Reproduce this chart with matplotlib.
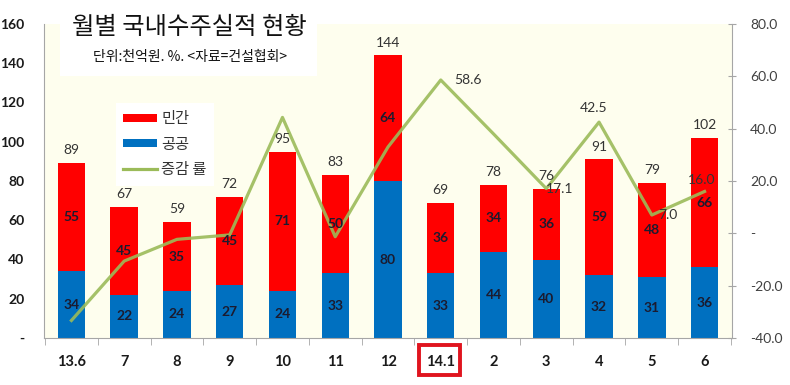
import matplotlib
matplotlib.use("Agg")
import matplotlib.pyplot as plt
from matplotlib.patches import Rectangle, Patch
from matplotlib.lines import Line2D
import numpy as np

plt.rcParams['font.family'] = ['Lato', 'Noto Sans CJK KR', 'DejaVu Sans']

categories = ["13.6", "7", "8", "9", "10", "11", "12", "14.1", "2", "3", "4", "5", "6"]
public = [34, 22, 24, 27, 24, 33, 80, 33, 44, 40, 32, 31, 36]
private = [55, 45, 35, 45, 71, 50, 64, 36, 34, 36, 59, 48, 66]
totals = [89, 67, 59, 72, 95, 83, 144, 69, 78, 76, 91, 79, 102]
change = [-33.3, -10.6, -2.3, -0.6, 44.3, -1.3, 33.0, 58.6, 38.0, 17.1, 42.5, 7.0, 16.0]
change_labels = {7: "58.6", 9: "17.1", 10: "42.5", 11: "7.0", 12: "16.0"}
left_ticks = [0, 20, 40, 60, 80, 100, 120, 140, 160]
right_ticks = [-40, -20, 0, 20, 40, 60, 80]

title = "월별 국내수주실적 현황"
subtitle = "단위:천억원. %. <자료=건설협회>"

RED = "#FF0000"
BLUE = "#0070C0"
GREEN = "#9BBB59"
BG = "#FEFEEE"

W, H = 790, 385
fig = plt.figure(figsize=(W / 100, H / 100), dpi=100)
fig.patch.set_facecolor("white")
ax = fig.add_axes([44 / W, 1 - 338 / H, (732 - 44) / W, (338 - 24) / H])
ax.set_facecolor(BG)
ax2 = ax.twinx()
ax2.patch.set_visible(False)

x = np.arange(len(categories))
bw = 0.52
ax.bar(x, public, bw, color=BLUE, zorder=2)
ax.bar(x, private, bw, bottom=public, color=RED, zorder=2)
ax.set_xlim(-0.52, len(categories) - 0.48)
ax.set_ylim(0, 160)
ax2.set_ylim(-40, 80)

ax2.plot(x, change, color=GREEN, lw=2.3, alpha=0.9, zorder=3)

# segment labels (drawn above the line)
for i in range(len(x)):
    ax2.text(x[i], public[i] / 2, str(public[i]), transform=ax.transData,
             ha="center", va="center", fontsize=10, fontweight="bold", color="#1b1b2f", zorder=5)
    ax2.text(x[i], public[i] + private[i] / 2, str(private[i]), transform=ax.transData,
             ha="center", va="center", fontsize=10, fontweight="bold", color="#1b1b2f", zorder=5)
    ax2.text(x[i], totals[i] + 3.5, str(totals[i]), transform=ax.transData,
             ha="center", va="bottom", fontsize=10, color="#333333", zorder=5)

offsets = {7: (10, 0, "left", "center"), 9: (0, 0, "left", "center"),
           10: (-4, 6, "center", "bottom"), 11: (5, 0, "left", "center"),
           12: (-2, 4, "center", "bottom")}
for i, s in change_labels.items():
    dx, dy, ha, va = offsets[i]
    ax2.annotate(s, (x[i], change[i]), xytext=(dx, dy), textcoords="offset points",
                 ha=ha, va=va, fontsize=10, color="#333333", zorder=6)

# axes styling
for a in (ax, ax2):
    a.spines["top"].set_visible(False)
ax.spines["right"].set_visible(False)
ax2.spines["left"].set_visible(False)
ax2.spines["bottom"].set_visible(False)
ax.spines["left"].set_color("#A6A6A6")
ax.spines["bottom"].set_color("#A6A6A6")
ax2.spines["right"].set_color("#A6A6A6")

ax.set_yticks(left_ticks)
ax.set_yticklabels(["-" if v == 0 else str(v) for v in left_ticks],
                   fontsize=10, fontweight="bold", color="#1a1a1a")
ax.tick_params(axis="y", length=0, pad=14)

ax2.set_yticks(right_ticks)
ax2.set_yticklabels(["-" if v == 0 else f"{v:.1f}" for v in right_ticks],
                    fontsize=10, color="#404040")
ax2.tick_params(axis="y", direction="inout", length=6, color="#A6A6A6", pad=10)

ax.set_xticks(x)
ax.set_xticklabels(categories, fontsize=10.5, fontweight="bold", color="#1a1a1a")
ax.set_xticks(np.arange(-0.5, len(categories), 1.0), minor=True)
ax.tick_params(axis="x", which="major", length=0, pad=12)
ax.tick_params(axis="x", which="minor", length=5, color="#A6A6A6", direction="out")

# red box around 14.1
fig.add_artist(Rectangle((419 / W, 1 - 375 / H), 41 / W, 30 / H, transform=fig.transFigure,
                         facecolor="none", edgecolor="#E0141E", linewidth=2.8, zorder=6))

# title box
fig.add_artist(Rectangle((60 / W, 1 - 76 / H), 257 / W, 72 / H, transform=fig.transFigure,
                         facecolor="white", edgecolor="none", zorder=5))
fig.text(189 / W, 1 - 27 / H, title, ha="center", va="center", fontsize=17.5,
         family=["Noto Sans CJK KR", "DejaVu Sans"], color="#111111", zorder=6)
fig.text(190 / W, 1 - 57 / H, subtitle, ha="center", va="center", fontsize=10,
         family=["Noto Sans CJK KR", "DejaVu Sans"], color="#111111", zorder=6)

# legend
handles = [Patch(facecolor=RED, edgecolor="none"), Patch(facecolor=BLUE, edgecolor="none"),
           Line2D([], [], color=GREEN, lw=2.3)]
leg = fig.legend(handles, ["민간", "공공", "증감 률"], loc="upper left",
                 bbox_to_anchor=(108 / W, 1 - 95 / H), frameon=True, fancybox=False,
                 facecolor="white", edgecolor="none", framealpha=1,
                 prop={"family": ["Noto Sans CJK KR", "DejaVu Sans"], "size": 11},
                 handlelength=2.2, handleheight=0.45, labelspacing=0.55, handletextpad=0.3,
                 borderpad=0.5)
leg.set_zorder(6)
for t in leg.get_texts():
    t.set_color("#333333")

fig.savefig("out.png", dpi=100)
